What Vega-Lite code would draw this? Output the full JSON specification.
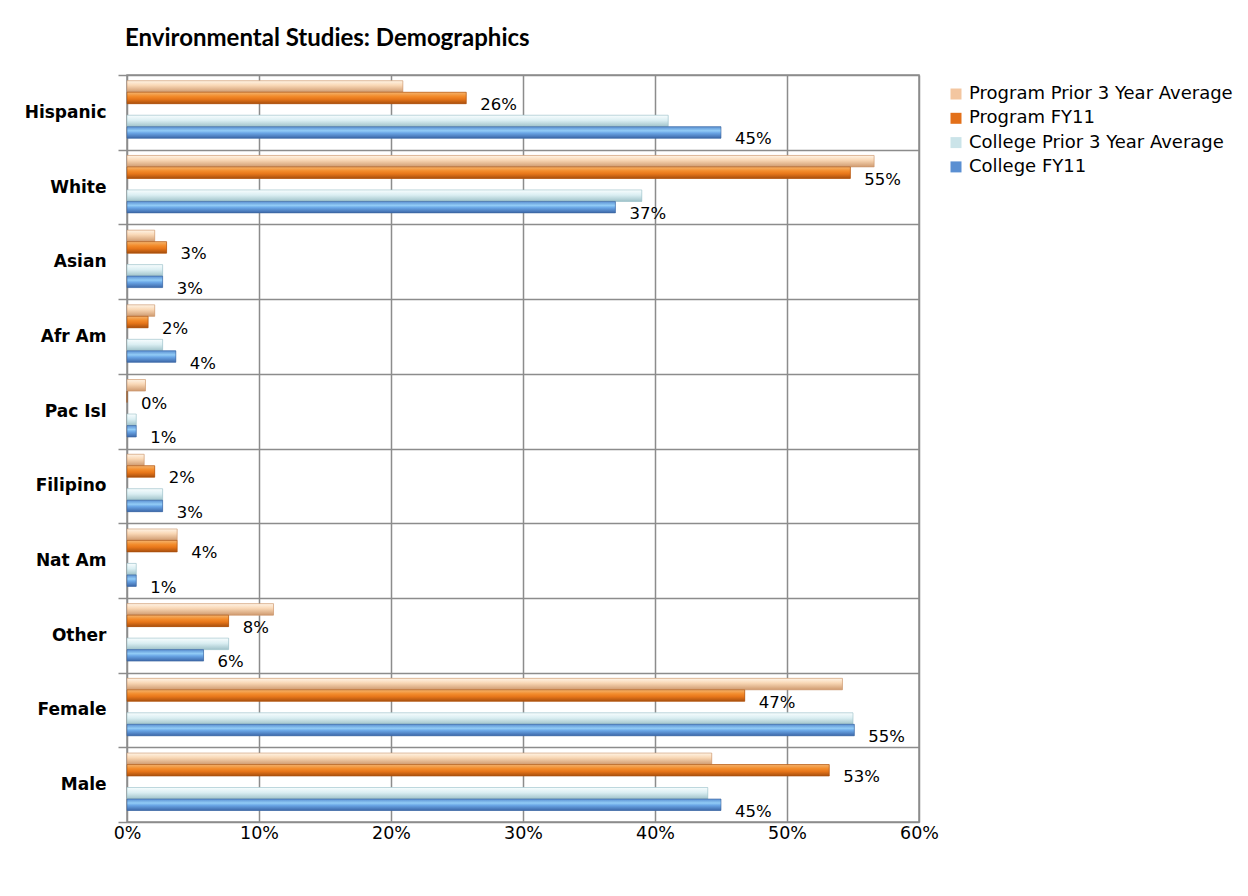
{
  "$schema": "https://vega.github.io/schema/vega-lite/v6.json",
  "width": 792,
  "height": 747,
  "autosize": {"type": "none"},
  "padding": {"left": 127, "top": 75, "right": 329, "bottom": 74},
  "background": "white",
  "title": {"text": "Environmental Studies: Demographics", "anchor": "start", "frame": "group", "font": "Lato", "fontSize": 24, "fontWeight": "bold", "color": "#000000", "offset": 15, "dx": -2},
  "data": {"values": [
    {"group": "Hispanic", "series": "Program Prior 3 Year Average", "value": 0.209},
    {"group": "Hispanic", "series": "Program FY11", "value": 0.257},
    {"group": "Hispanic", "series": "College Prior 3 Year Average", "value": 0.41},
    {"group": "Hispanic", "series": "College FY11", "value": 0.45},
    {"group": "White", "series": "Program Prior 3 Year Average", "value": 0.566},
    {"group": "White", "series": "Program FY11", "value": 0.548},
    {"group": "White", "series": "College Prior 3 Year Average", "value": 0.39},
    {"group": "White", "series": "College FY11", "value": 0.37},
    {"group": "Asian", "series": "Program Prior 3 Year Average", "value": 0.021},
    {"group": "Asian", "series": "Program FY11", "value": 0.03},
    {"group": "Asian", "series": "College Prior 3 Year Average", "value": 0.027},
    {"group": "Asian", "series": "College FY11", "value": 0.027},
    {"group": "Afr Am", "series": "Program Prior 3 Year Average", "value": 0.021},
    {"group": "Afr Am", "series": "Program FY11", "value": 0.016},
    {"group": "Afr Am", "series": "College Prior 3 Year Average", "value": 0.027},
    {"group": "Afr Am", "series": "College FY11", "value": 0.037},
    {"group": "Pac Isl", "series": "Program Prior 3 Year Average", "value": 0.014},
    {"group": "Pac Isl", "series": "Program FY11", "value": 0.0},
    {"group": "Pac Isl", "series": "College Prior 3 Year Average", "value": 0.007},
    {"group": "Pac Isl", "series": "College FY11", "value": 0.007},
    {"group": "Filipino", "series": "Program Prior 3 Year Average", "value": 0.013},
    {"group": "Filipino", "series": "Program FY11", "value": 0.021},
    {"group": "Filipino", "series": "College Prior 3 Year Average", "value": 0.027},
    {"group": "Filipino", "series": "College FY11", "value": 0.027},
    {"group": "Nat Am", "series": "Program Prior 3 Year Average", "value": 0.038},
    {"group": "Nat Am", "series": "Program FY11", "value": 0.038},
    {"group": "Nat Am", "series": "College Prior 3 Year Average", "value": 0.007},
    {"group": "Nat Am", "series": "College FY11", "value": 0.007},
    {"group": "Other", "series": "Program Prior 3 Year Average", "value": 0.111},
    {"group": "Other", "series": "Program FY11", "value": 0.077},
    {"group": "Other", "series": "College Prior 3 Year Average", "value": 0.077},
    {"group": "Other", "series": "College FY11", "value": 0.058},
    {"group": "Female", "series": "Program Prior 3 Year Average", "value": 0.542},
    {"group": "Female", "series": "Program FY11", "value": 0.468},
    {"group": "Female", "series": "College Prior 3 Year Average", "value": 0.55},
    {"group": "Female", "series": "College FY11", "value": 0.551},
    {"group": "Male", "series": "Program Prior 3 Year Average", "value": 0.443},
    {"group": "Male", "series": "Program FY11", "value": 0.532},
    {"group": "Male", "series": "College Prior 3 Year Average", "value": 0.44},
    {"group": "Male", "series": "College FY11", "value": 0.45}
  ]},
  "config": {
    "view": {"stroke": "#8c8c8c", "strokeWidth": 1.5},
    "axis": {"labelFont": "DejaVu Sans", "titleFont": "DejaVu Sans"}
  },
  "encoding": {
    "y": {
      "field": "group", "type": "nominal",
      "sort": ["Hispanic", "White", "Asian", "Afr Am", "Pac Isl", "Filipino", "Nat Am", "Other", "Female", "Male"],
      "scale": {"paddingInner": 0, "paddingOuter": 0},
      "axis": {"title": null, "tickBand": "extent", "grid": true, "gridColor": "#8c8c8c", "gridWidth": 1.5, "gridOpacity": 1, "tickColor": "#8c8c8c", "tickWidth": 1.5, "tickSize": 9, "domain": false, "labelFontSize": 17, "labelFontWeight": "bold", "labelColor": "#000000", "labelPadding": 12}
    },
    "yOffset": {
      "field": "series", "type": "nominal",
      "scale": {"domain": ["Program Prior 3 Year Average", "Program FY11", "gap", "College Prior 3 Year Average", "College FY11"], "paddingInner": 0, "paddingOuter": 0.75, "align": 0.333}
    },
    "x": {
      "field": "value", "type": "quantitative",
      "scale": {"domain": [0, 0.6], "nice": false},
      "axis": {"title": null, "format": ".0%", "values": [0, 0.1, 0.2, 0.3, 0.4, 0.5, 0.6], "grid": true, "gridColor": "#8c8c8c", "gridWidth": 1.5, "gridOpacity": 1, "ticks": false, "domain": false, "labelFlush": false, "labelFontSize": 17.5, "labelColor": "#000000", "labelPadding": 2}
    }
  },
  "layer": [
    {
      "mark": {"type": "bar", "strokeWidth": 0},
      "encoding": {
        "color": {
          "field": "series", "type": "nominal",
          "scale": {
            "domain": ["Program Prior 3 Year Average", "Program FY11", "College Prior 3 Year Average", "College FY11"],
            "range": ["#F3C6A0", "#E3701A", "#CBE4E9", "#5A8FD2"]
          },
          "legend": {"title": null, "orient": "none", "legendX": 820, "legendY": 10, "symbolType": "square", "symbolSize": 121, "symbolStrokeWidth": 0, "labelFont": "DejaVu Sans", "labelFontSize": 18, "labelColor": "#000000", "labelLimit": 400, "rowPadding": 6.3, "labelOffset": 4}
        }
      }
    },
    {
      "transform": [{"filter": "datum.series == 'Program Prior 3 Year Average'"}],
      "mark": {"type": "bar", "stroke": "#C9956B", "strokeWidth": 0.6, "fill": {"gradient": "linear", "x1": 0, "y1": 0, "x2": 0, "y2": 1, "stops": [{"offset": 0, "color": "#FFF4E6"}, {"offset": 0.4, "color": "#F9D8B6"}, {"offset": 1, "color": "#CF9A6F"}]}}
    },
    {
      "transform": [{"filter": "datum.series == 'Program FY11'"}],
      "mark": {"type": "bar", "stroke": "#A9500F", "strokeWidth": 0.6, "fill": {"gradient": "linear", "x1": 0, "y1": 0, "x2": 0, "y2": 1, "stops": [{"offset": 0, "color": "#F4B46E"}, {"offset": 0.35, "color": "#F38C2C"}, {"offset": 0.6, "color": "#E7761A"}, {"offset": 1, "color": "#A84F0E"}]}}
    },
    {
      "transform": [{"filter": "datum.series == 'College Prior 3 Year Average'"}],
      "mark": {"type": "bar", "stroke": "#9BBFC7", "strokeWidth": 0.6, "fill": {"gradient": "linear", "x1": 0, "y1": 0, "x2": 0, "y2": 1, "stops": [{"offset": 0, "color": "#F8FDFE"}, {"offset": 0.45, "color": "#DAEEF2"}, {"offset": 1, "color": "#9FC2C9"}]}}
    },
    {
      "transform": [{"filter": "datum.series == 'College FY11'"}],
      "mark": {"type": "bar", "stroke": "#3C66A0", "strokeWidth": 0.6, "fill": {"gradient": "linear", "x1": 0, "y1": 0, "x2": 0, "y2": 1, "stops": [{"offset": 0, "color": "#5A8FD2"}, {"offset": 0.35, "color": "#92CCF6"}, {"offset": 0.55, "color": "#6AA6E6"}, {"offset": 1, "color": "#3C67A8"}]}}
    },
    {
      "transform": [{"filter": "datum.series == 'Program FY11' || datum.series == 'College FY11'"}],
      "mark": {"type": "text", "align": "left", "baseline": "middle", "dx": 14, "dy": 7, "font": "DejaVu Sans", "fontSize": 16.5, "color": "#000000"},
      "encoding": {
        "text": {"field": "value", "type": "quantitative", "format": ".0%"}
      }
    }
  ]
}
